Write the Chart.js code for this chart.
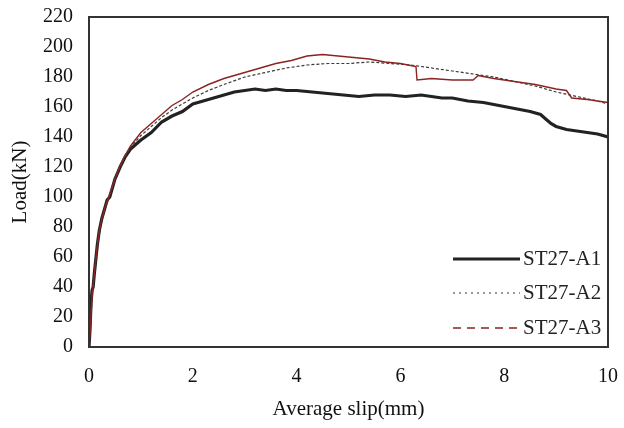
<!DOCTYPE html>
<html>
<head>
<meta charset="utf-8">
<script src="https://cdn.jsdelivr.net/npm/chart.js@4"></script>
<style>
  html, body { margin: 0; padding: 0; background: #fff; }
  #wrap { width: 624px; height: 428px; }
</style>
</head>
<body>
<div id="wrap"><canvas id="slipChart" width="624" height="428"></canvas></div>
<script>
// values: slip (mm) and load (kN)
const slipA1 = [0, 0.02, 0.04, 0.06, 0.08, 0.1, 0.13, 0.16, 0.2, 0.25, 0.3, 0.35, 0.4, 0.45, 0.5, 0.6, 0.7, 0.8, 0.9, 1.0,
  1.2, 1.4, 1.6, 1.8, 2.0, 2.2, 2.4, 2.6, 2.8, 3.0, 3.2, 3.4, 3.6, 3.8, 4.0, 4.3, 4.6, 4.9, 5.2, 5.5, 5.8, 6.1, 6.4, 6.6,
  6.8, 7.0, 7.3, 7.6, 7.9, 8.2, 8.5, 8.7, 8.8, 8.9, 9.0, 9.2, 9.4, 9.6, 9.8, 10.0];
const loadA1 = [0, 12, 30, 38, 40, 48, 58, 68, 78, 86, 92, 98, 100, 106, 112, 120, 127, 132, 135, 138,
  143, 150, 154, 157, 162, 164, 166, 168, 170, 171, 172, 171, 172, 171, 171, 170, 169, 168, 167, 168, 168, 167, 168, 167,
  166, 166, 164, 163, 161, 159, 157, 155, 152, 149, 147, 145, 144, 143, 142, 140];

const slipA2 = [0, 0.03, 0.06, 0.1, 0.15, 0.2, 0.25, 0.3, 0.4, 0.5, 0.6, 0.7, 0.8, 1.0, 1.2, 1.4, 1.6, 1.8, 2.0, 2.3,
  2.6, 3.0, 3.4, 3.8, 4.2, 4.6, 5.0, 5.4, 5.8, 6.2, 6.6, 7.0, 7.4, 7.8, 8.2, 8.6, 9.0, 9.4, 9.8, 10.0];
const loadA2 = [0, 14, 34, 47, 63, 76, 85, 91, 101, 111, 120, 127, 133, 141, 147, 153, 158, 162, 166, 171,
  175, 180, 183, 186, 188, 189, 189, 190, 189, 188, 186, 184, 182, 180, 177, 174, 170, 167, 164, 162];

const slipA3 = [0, 0.03, 0.06, 0.1, 0.15, 0.2, 0.25, 0.3, 0.4, 0.5, 0.6, 0.7, 0.8, 1.0, 1.2, 1.4, 1.6, 1.8, 2.0, 2.3,
  2.6, 3.0, 3.3, 3.6, 3.9, 4.2, 4.5, 4.8, 5.1, 5.4, 5.7, 6.0, 6.3, 6.32, 6.6, 7.0, 7.4, 7.5, 7.8, 8.2, 8.6, 9.0, 9.2,
  9.3, 9.6, 10.0];
const loadA3 = [0, 15, 35, 48, 65, 78, 86, 92, 102, 112, 121, 128, 134, 143, 149, 155, 161, 165, 170, 175,
  179, 183, 186, 189, 191, 194, 195, 194, 193, 192, 190, 189, 187, 178, 179, 178, 178, 181, 179, 177, 175, 172, 171,
  166, 165, 163];

const seriesNames = ['ST27-A1', 'ST27-A2', 'ST27-A3'];
const xTicks = [0, 2, 4, 6, 8, 10];
const yTicks = [0, 20, 40, 60, 80, 100, 120, 140, 160, 180, 200, 220];

const serif = 'Liberation Serif, Times New Roman, serif';

function pairs(xs, ys) {
  return xs.map((x, i) => ({ x: x, y: ys[i] }));
}

// legend sits inside the plot, bottom right
const insideLegend = {
  id: 'insideLegend',
  afterDatasetsDraw(chart) {
    const { ctx, chartArea } = chart;
    const rows = [chartArea.bottom - 88, chartArea.bottom - 54, chartArea.bottom - 19];
    const x0 = chartArea.right - 155, x1 = chartArea.right - 88;
    const styles = [
      { color: '#222', width: 3, dash: [] },
      { color: '#333', width: 1.2, dash: [2, 4] },
      { color: '#8b2323', width: 1.4, dash: [8, 6] }
    ];
    ctx.save();
    ctx.font = '21px ' + serif;
    ctx.textBaseline = 'middle';
    ctx.fillStyle = '#222';
    seriesNames.forEach((name, i) => {
      const s = styles[i];
      ctx.beginPath();
      ctx.strokeStyle = s.color;
      ctx.lineWidth = s.width;
      ctx.setLineDash(s.dash);
      ctx.moveTo(x0, rows[i]);
      ctx.lineTo(x1, rows[i]);
      ctx.stroke();
      ctx.setLineDash([]);
      ctx.fillText(name, x1 + 3, rows[i]);
    });
    ctx.restore();
  }
};

const frame = {
  id: 'frame',
  afterDraw(chart) {
    const { ctx, chartArea } = chart;
    ctx.save();
    ctx.strokeStyle = '#333';
    ctx.lineWidth = 2;
    ctx.strokeRect(chartArea.left, chartArea.top, chartArea.right - chartArea.left, chartArea.bottom - chartArea.top);
    ctx.restore();
  }
};

new Chart(document.getElementById('slipChart'), {
  type: 'line',
  data: {
    datasets: [{
      label: seriesNames[0],
      data: pairs(slipA1, loadA1),
      borderColor: '#222',
      borderWidth: 3.2,
      order: 3
    }, {
      label: seriesNames[1],
      data: pairs(slipA2, loadA2),
      borderColor: '#3a3a3a',
      borderWidth: 1.2,
      borderDash: [3, 2],
      order: 2
    }, {
      label: seriesNames[2],
      data: pairs(slipA3, loadA3),
      borderColor: '#8b2323',
      borderWidth: 1.4,
      order: 1
    }]
  },
  options: {
    responsive: false,
    animation: false,
    elements: { point: { radius: 0 }, line: { tension: 0, fill: false } },
    layout: { padding: { top: 17, right: 16, left: 0, bottom: 0 } },
    plugins: { legend: { display: false }, tooltip: { enabled: false } },
    scales: {
      x: {
        type: 'linear',
        min: 0, max: 10,
        afterFit(scale) {
          scale.height = 81;
          scale.paddingLeft = 0;
          scale.paddingRight = 0;
        },
        afterBuildTicks(scale) { scale.ticks = xTicks.map(v => ({ value: v })); },
        grid: { display: false, drawTicks: false },
        border: { display: false },
        ticks: { color: '#111', padding: 18, font: { family: serif, size: 20 } },
        title: {
          display: true,
          text: 'Average slip(mm)',
          color: '#111',
          padding: { bottom: 6 },
          font: { family: serif, size: 21 }
        }
      },
      y: {
        min: 0, max: 220,
        afterFit(scale) {
          scale.width = 89;
          scale.paddingTop = 0;
          scale.paddingBottom = 0;
        },
        afterBuildTicks(scale) { scale.ticks = yTicks.map(v => ({ value: v })); },
        grid: { display: false, drawTicks: false },
        border: { display: false },
        ticks: { color: '#111', padding: 16, font: { family: serif, size: 20 } },
        title: {
          display: true,
          text: 'Load(kN)',
          color: '#111',
          padding: { top: 8 },
          font: { family: serif, size: 21 }
        }
      }
    }
  },
  plugins: [insideLegend, frame]
});
</script>
</body>
</html>
